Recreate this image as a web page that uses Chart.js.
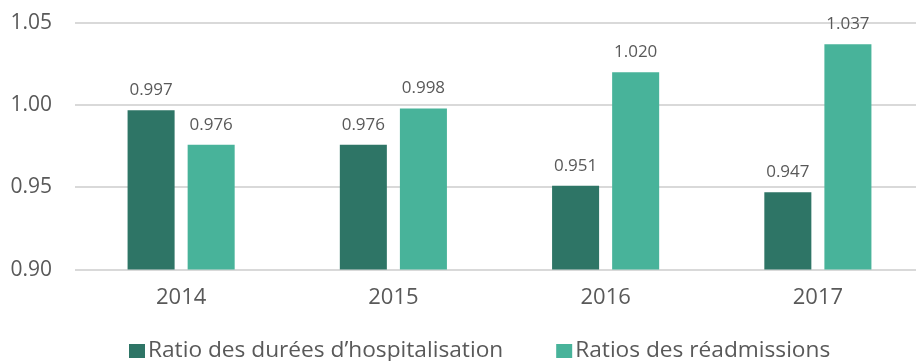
<!DOCTYPE html>
<html>
<head>
<meta charset="utf-8">
<script src="https://cdn.jsdelivr.net/npm/chart.js@4/dist/chart.umd.min.js"></script>
<style>
  html, body { margin: 0; padding: 0; background: #fff; overflow: hidden; }
  #wrap { width: 924px; height: 361px; }
</style>
</head>
<body>
<div id="wrap"><canvas id="ratiosChart"></canvas></div>
<script>
// Ratios annuels
const annees = ['2014', '2015', '2016', '2017'];
const dureesHospitalisation = [0.997, 0.976, 0.951, 0.947];
const readmissions = [0.976, 0.998, 1.020, 1.037];
const ticksY = [0.90, 0.95, 1.00, 1.05];
const series = ['Ratio des durées d\u2019hospitalisation', 'Ratios des réadmissions'];
const couleurs = ['#2e7566', '#48b39a'];

const gris = '#595959';
const police = '"Open Sans"';

// étiquettes de valeur au-dessus des barres
const valeursPlugin = {
    id: 'valeurs',
    afterDatasetsDraw(chart) {
        const ctx = chart.ctx;
        ctx.save();
        ctx.font = '17px ' + police;
        ctx.fillStyle = gris;
        ctx.textAlign = 'center';
        ctx.textBaseline = 'alphabetic';
        chart.data.datasets.forEach((ds, i) => {
            chart.getDatasetMeta(i).data.forEach((bar, j) => {
                ctx.fillText(ds.data[j].toFixed(3), bar.x, bar.y - 15);
            });
        });
        ctx.restore();
    }
};

// légende en bas : carré collé au texte
const legendePlugin = {
    id: 'legende',
    afterDraw(chart) {
        const ctx = chart.ctx;
        ctx.save();
        ctx.font = '22.7px ' + police;
        ctx.textBaseline = 'middle';
        let x = 129;
        const y = 351;
        chart.data.datasets.forEach(ds => {
            ctx.fillStyle = ds.backgroundColor;
            ctx.fillRect(x, y - 7, 16, 14);
            x += 19;
            ctx.fillStyle = gris;
            ctx.fillText(ds.label, x, y);
            x += ctx.measureText(ds.label).width + 53;
        });
        ctx.restore();
    }
};

new Chart(document.getElementById('ratiosChart').getContext('2d'), {
    type: 'bar',
    data: {
        labels: annees,
        datasets: series.map((nom, i) => ({
            label: nom,
            data: i === 0 ? dureesHospitalisation : readmissions,
            backgroundColor: couleurs[i]
        }))
    },
    options: {
        responsive: true,
        maintainAspectRatio: false,
        animation: false,
        layout: { padding: { top: 23, right: 0, left: 0, bottom: 35 } },
        datasets: { bar: { categoryPercentage: 0.566, barPercentage: 0.783 } },
        plugins: {
            tooltip: { enabled: false },
            legend: { display: false }
        },
        scales: {
            x: {
                grid: { display: false, drawTicks: false },
                border: { display: false },
                ticks: { color: gris, font: { family: police, size: 22 }, padding: 15 }
            },
            y: {
                min: 0.90,
                max: 1.05,
                afterFit(scale) {
                    scale.width = 75;
                    scale.paddingTop = 0;
                    scale.paddingBottom = 0;
                },
                afterBuildTicks(scale) { scale.ticks = ticksY.map(v => ({ value: v })); },
                grid: { color: '#d9d9d9', lineWidth: 2, drawTicks: false },
                border: { display: false },
                ticks: {
                    color: gris,
                    font: { family: police, size: 21 },
                    padding: 23,
                    callback: v => Number(v).toFixed(2)
                }
            }
        }
    },
    plugins: [valeursPlugin, legendePlugin]
});
</script>
</body>
</html>
